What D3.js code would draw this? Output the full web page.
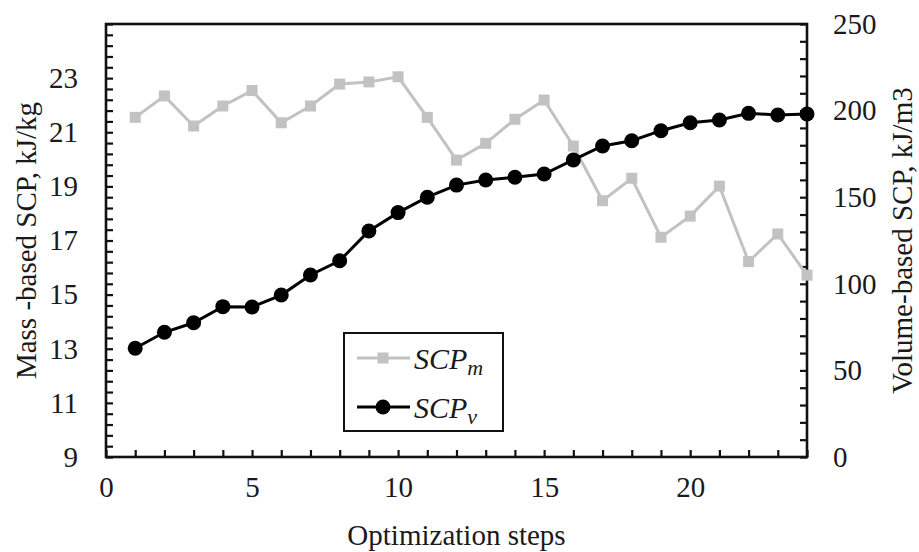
<!DOCTYPE html>
<html>
<head>
<meta charset="utf-8">
<script src="https://cdn.jsdelivr.net/npm/d3@7"></script>
<style>
  body { margin: 0; background: #fff; }
  text { font-family: "Liberation Serif", "Times New Roman", serif; fill: #1a1a1a; }
</style>
</head>
<body>
<svg id="chart" width="919" height="552"></svg>
<script>
// Optimization step index
const steps = [1, 2, 3, 4, 5, 6, 7, 8, 9, 10, 11, 12, 13, 14, 15, 16, 17, 18, 19, 20, 21, 22, 23, 24];
// Mass-based SCP, kJ/kg (left axis)
const scpMass = [21.55, 22.34, 21.23, 21.97, 22.54, 21.35, 21.97, 22.78, 22.86, 23.05, 21.55, 19.97,
                 20.59, 21.48, 22.19, 20.49, 18.47, 19.30, 17.12, 17.90, 19.01, 16.22, 17.24, 15.72];
// Volume-based SCP, kJ/m3 (right axis)
const scpVolume = [62.8, 72.0, 77.5, 86.8, 86.6, 93.5, 105.1, 113.3, 130.5, 141.1, 150.0, 157.0,
                   159.9, 161.5, 163.4, 171.5, 179.6, 182.6, 188.4, 193.0, 194.6, 198.4, 197.5, 198.0];
// Tick labels
const xTickLabels = [0, 5, 10, 15, 20];
const leftTickLabels = [9, 11, 13, 15, 17, 19, 21, 23];
const rightTickLabels = [0, 50, 100, 150, 200, 250];

const svg = d3.select("#chart");
const plot = { left: 106, right: 807, top: 24, bottom: 457 };

const x = d3.scaleLinear().domain([0, 24]).range([plot.left, plot.right]);
const yL = d3.scaleLinear().domain([9, 25]).range([plot.bottom, plot.top]);
const yR = d3.scaleLinear().domain([0, 250]).range([plot.bottom, plot.top]);

const FONT = 29;
const TICK = 7;

// inward tick marks
const leftMinor = d3.range(0, 41).map(i => 9 + i * 0.4);
const rightMinor = d3.range(0, 26).map(i => i * 10);
const bottomMinor = d3.range(0, 25);

function tickLayer(axis, transform) {
  const g = svg.append("g").attr("transform", transform).call(axis);
  g.select(".domain").remove();
  g.selectAll(".tick line").attr("stroke", "#111").attr("stroke-width", 2.2);
  return g;
}
tickLayer(d3.axisLeft(yL).tickValues(leftMinor).tickSize(-TICK).tickFormat(""), `translate(${plot.left},0)`);
tickLayer(d3.axisRight(yR).tickValues(rightMinor).tickSize(-TICK).tickFormat(""), `translate(${plot.right},0)`);
tickLayer(d3.axisBottom(x).tickValues(bottomMinor).tickSize(-TICK).tickFormat(""), `translate(0,${plot.bottom})`);

// tick labels
function labelLayer(axis, transform) {
  const g = svg.append("g").attr("transform", transform).call(axis);
  g.select(".domain").remove();
  g.selectAll(".tick line").remove();
  g.selectAll(".tick text").attr("font-size", FONT).attr("font-family", null).style("fill", "#1a1a1a");
  return g;
}
labelLayer(d3.axisLeft(yL).tickValues(leftTickLabels).tickSize(0).tickPadding(28).tickFormat(d3.format("d")),
  `translate(${plot.left},0)`);
labelLayer(d3.axisRight(yR).tickValues(rightTickLabels).tickSize(0).tickPadding(26).tickFormat(d3.format("d")),
  `translate(${plot.right},0)`);
labelLayer(d3.axisBottom(x).tickValues(xTickLabels).tickSize(0).tickPadding(19).tickFormat(d3.format("d")),
  `translate(0,${plot.bottom})`);

// frame
svg.append("rect")
  .attr("x", plot.left).attr("y", plot.top)
  .attr("width", plot.right - plot.left).attr("height", plot.bottom - plot.top)
  .attr("fill", "none").attr("stroke", "#111").attr("stroke-width", 2.6);

// axis titles
svg.append("text")
  .attr("transform", `translate(${(plot.left + plot.right) / 2},545)`)
  .attr("text-anchor", "middle").attr("font-size", FONT)
  .text("Optimization steps");
svg.append("text")
  .attr("transform", `translate(36,${(plot.top + plot.bottom) / 2}) rotate(-90)`)
  .attr("text-anchor", "middle").attr("font-size", FONT)
  .text("Mass -based SCP, kJ/kg");
svg.append("text")
  .attr("transform", `translate(902,${(plot.top + plot.bottom) / 2}) rotate(-90)`)
  .attr("text-anchor", "middle").attr("dominant-baseline", "central").attr("font-size", FONT)
  .text("Volume-based SCP, kJ/m3");

const GRAY = "#c2c2c2";

// mass-based series
const massLine = d3.line().x((d, i) => x(steps[i])).y(d => yL(d));
svg.append("path").datum(scpMass)
  .attr("d", massLine).attr("fill", "none")
  .attr("stroke", GRAY).attr("stroke-width", 3);
svg.append("g").selectAll("rect").data(scpMass).join("rect")
  .attr("x", (d, i) => x(steps[i]) - 5.5).attr("y", d => yL(d) - 5.5)
  .attr("width", 11).attr("height", 11).attr("fill", GRAY);

// volume-based series
const volLine = d3.line().x((d, i) => x(steps[i])).y(d => yR(d));
svg.append("path").datum(scpVolume)
  .attr("d", volLine).attr("fill", "none")
  .attr("stroke", "#000").attr("stroke-width", 3);
svg.append("g").selectAll("circle").data(scpVolume).join("circle")
  .attr("cx", (d, i) => x(steps[i])).attr("cy", d => yR(d))
  .attr("r", 7.5).attr("fill", "#000");

// legend
const lg = svg.append("g");
lg.append("rect").attr("x", 344).attr("y", 333).attr("width", 159).attr("height", 98)
  .attr("fill", "#fff").attr("stroke", "#111").attr("stroke-width", 2);
const legendRows = [
  { y: 358, sub: "m", color: GRAY, marker: "square" },
  { y: 407, sub: "v", color: "#000", marker: "circle" }
];
legendRows.forEach(r => {
  lg.append("line").attr("x1", 357).attr("x2", 410).attr("y1", r.y).attr("y2", r.y)
    .attr("stroke", r.color).attr("stroke-width", 3);
  if (r.marker === "square") {
    lg.append("rect").attr("x", 383 - 5.5).attr("y", r.y - 5.5).attr("width", 11).attr("height", 11).attr("fill", r.color);
  } else {
    lg.append("circle").attr("cx", 383).attr("cy", r.y).attr("r", 7.5).attr("fill", r.color);
  }
  const t = lg.append("text").attr("x", 414).attr("y", r.y + 11)
    .attr("font-size", 30).attr("font-style", "italic");
  t.append("tspan").text("SCP");
  t.append("tspan").attr("font-size", 22).attr("dy", 6).text(r.sub);
});
</script>
</body>
</html>
